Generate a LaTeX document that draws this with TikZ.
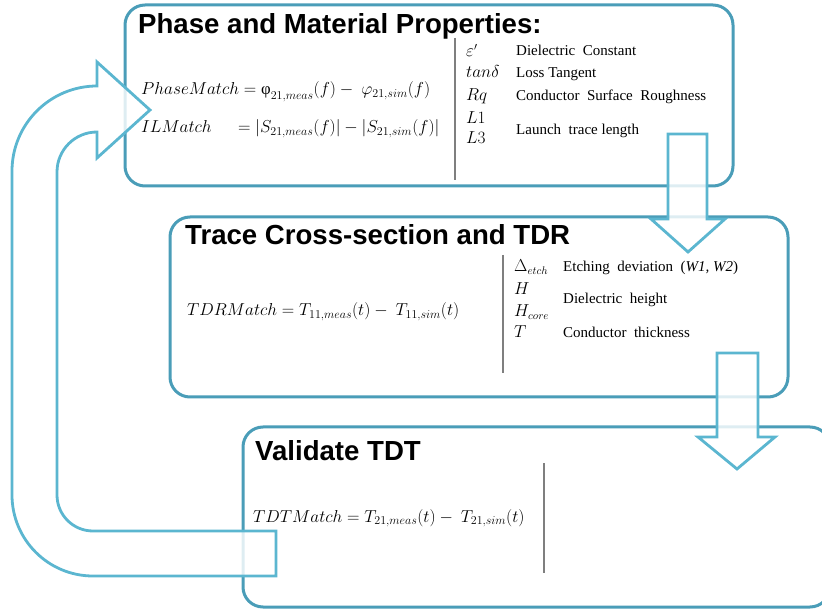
\documentclass[tikz,border=0pt]{standalone}
\usepackage{amsmath}
\usepackage{fontspec}
\setmainfont{Liberation Serif}
\newfontfamily\titlefont{Liberation Sans}
\definecolor{boxc}{HTML}{4A9DB8}
\definecolor{arrc}{HTML}{5BB6D0}
\definecolor{sepc}{HTML}{7F7F7F}
\begin{document}
\begin{tikzpicture}[x=1pt,y=-1pt,
  boxst/.style={draw=boxc, line width=3pt, rounded corners=20pt, anchor=north west, inner sep=0pt, outer sep=0pt},
  arrowst/.style={draw=arrc, line width=2.8pt, fill=white, fill opacity=0.82, line join=miter},
  sepline/.style={draw=sepc, line width=1.5pt},
  ttl/.style={font=\titlefont\bfseries\fontsize{27.6}{31}\selectfont, anchor=base west, inner sep=0pt},
  eq/.style={font=\fontsize{16.7}{19}\selectfont, anchor=base west, inner sep=0pt},
  sym/.style={font=\fontsize{16}{18}\selectfont, anchor=base west, inner sep=0pt},
  desc/.style={font=\fontsize{15}{17}\selectfont, anchor=base west, inner sep=0pt}]
\useasboundingbox (0,0) rectangle (822,609);
% boxes
\node[boxst, minimum width=608pt, minimum height=181pt] (b1) at (125,5) {};
\node[boxst, minimum width=618pt, minimum height=180pt] (b2) at (170,217) {};
\node[boxst, minimum width=587pt, minimum height=180pt] (b3) at (243,427) {};
% separators
\draw[sepline] (455,38) -- (455,180);
\draw[sepline] (503,255) -- (503,373);
\draw[sepline] (544,463) -- (544,573);
% block arrows
\draw[arrowst] (668,134) -- (707,134) -- (707,219) -- (725,219) -- (688,252) -- (651,219) -- (668,219) -- cycle;
\draw[arrowst] (717,353) -- (758,353) -- (758,437) -- (775,437) -- (737,469) -- (698,437) -- (717,437) -- cycle;
\draw[arrowst] (276,576) -- (93,576) .. controls (48.3,576) and (12,539.7) .. (12,495) -- (12,171)
  .. controls (12,124.1) and (50.1,86) .. (97,86) -- (97,62) -- (150,110) -- (97,158) -- (97,132)
  .. controls (74.9,132) and (57,149.9) .. (57,172) -- (57,495)
  .. controls (57,514.9) and (73.1,531) .. (93,531) -- (276,531) -- cycle;
% titles
\node[ttl] (t1) at (138,34) {Phase and Material Properties:};
\node[ttl] (t2) at (185,245) {Trace Cross-section and TDR};
\node[ttl] (t3) at (255,460) {Validate TDT};
% equations
\node[eq] (e1) at (141,95) {$PhaseMatch = \mbox{φ}_{21,meas}(f) -\ \varphi_{21,sim}(f)$};
\node[eq] (e2a) at (141,133) {$ILMatch$};
\node[eq] (e2b) at (233,133) {${}= |S_{21,meas}(f)| - |S_{21,sim}(f)|$};
\node[eq] (e3) at (187,316) {$TDRMatch = T_{11,meas}(t) -\ T_{11,sim}(t)$};
\node[eq] (e4) at (253,522) {$TDTMatch = T_{21,meas}(t) -\ T_{21,sim}(t)$};
% box 1 parameters
\node[sym] (s11) at (466,57) {$\varepsilon'$};
\node[sym] (s12) at (466,78) {$tan\delta$};
\node[sym] (s13) at (466,101) {$Rq$};
\node[sym] (s14) at (466,124) {$L1$};
\node[sym] (s15) at (466,144) {$L3$};
\node[desc] (d11) at (516,56) {Dielectric\ \ Constant};
\node[desc] (d12) at (516,78) {Loss Tangent};
\node[desc] (d13) at (516,101) {Conductor\ \ Surface\ \ Roughness};
\node[desc] (d14) at (516,135) {Launch\ \ trace length};
% box 2 parameters
\node[sym] (s21) at (514,272) {$\Delta_{etch}$};
\node[sym] (s22) at (514,295) {$H$};
\node[sym] (s23) at (514,317) {$H_{core}$};
\node[sym] (s24) at (514,338) {$T$};
\node[desc] (d21) at (563,272) {Etching\ \ deviation\ \ (\textit{W1, W2})};
\node[desc] (d22) at (563,304) {Dielectric\ \ height};
\node[desc] (d23) at (563,338) {Conductor\ \ thickness};
\end{tikzpicture}
\end{document}
